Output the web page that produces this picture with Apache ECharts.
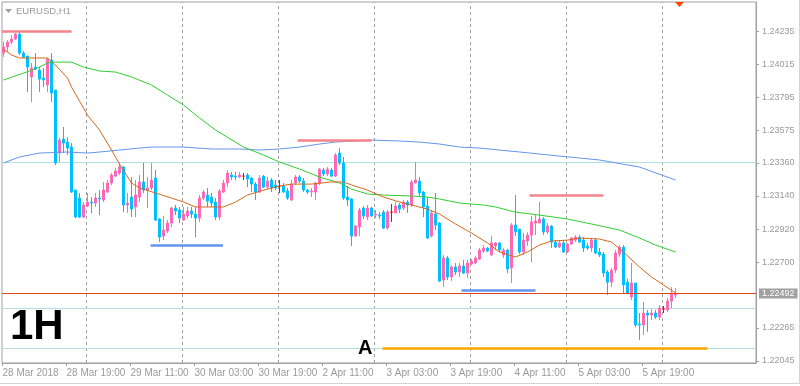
<!DOCTYPE html>
<html><head><meta charset="utf-8">
<script src="https://cdn.jsdelivr.net/npm/echarts/dist/echarts.min.js"></script>
<style>html,body{margin:0;padding:0;background:#fff;}#c{width:800px;height:386px;}</style>
</head><body><div id="c"></div>
<script>
// ---- data ----
const symbol = 'EURUSD,H1';
const periodText = '1H';
const xTickIdx = [0, 16, 32, 48, 64, 80, 96, 112, 128, 144, 160];
const xTickLabels = ['28 Mar 2018', '28 Mar 19:00', '29 Mar 11:00', '30 Mar 03:00', '30 Mar 19:00', '2 Apr 11:00', '3 Apr 03:00', '3 Apr 19:00', '4 Apr 11:00', '5 Apr 03:00', '5 Apr 19:00'];
const yTickValues = [1.24235, 1.24015, 1.23795, 1.23575, 1.23360, 1.23140, 1.22920, 1.22700, 1.22265, 1.22045];
const dayBreakIdx = [21, 45, 69, 93, 117, 141, 165];

const open = [1.24089,1.24129,1.24162,1.24182,1.24215,1.24089,1.24069,1.23930,1.23996,1.23976,
1.23923,1.23877,1.24043,1.23843,1.23425,1.23518,1.23498,1.23465,1.23179,1.23126,
1.23000,1.23073,1.23100,1.23093,1.23126,1.23113,1.23166,1.23226,1.23272,1.23292,
1.23332,1.23080,1.23133,1.23067,1.23133,1.23233,1.23179,1.23193,1.23259,1.22987,
1.22874,1.22907,1.22960,1.23060,1.23047,1.22980,1.23007,1.23040,1.23020,1.22993,
1.23126,1.23146,1.23133,1.23100,1.23000,1.23166,1.23226,1.23279,1.23272,1.23266,
1.23272,1.23279,1.23259,1.23219,1.23166,1.23272,1.23199,1.23246,1.23213,1.23206,
1.23206,1.23173,1.23113,1.23226,1.23266,1.23239,1.23179,1.23166,1.23166,1.23226,
1.23312,1.23286,1.23312,1.23272,1.23425,1.23359,1.23133,1.23120,1.22874,1.22934,
1.23060,1.23000,1.23060,1.23013,1.23013,1.23033,1.22927,1.23033,1.23027,1.23080,
1.23060,1.23100,1.23080,1.23226,1.23239,1.23166,1.23073,1.22874,1.23020,1.22960,
1.22582,1.22728,1.22602,1.22668,1.22635,1.22675,1.22628,1.22688,1.22695,1.22721,
1.22774,1.22794,1.22748,1.22808,1.22828,1.22748,1.22781,1.22662,1.22947,1.22920,
1.22768,1.22841,1.22880,1.22960,1.22960,1.22987,1.22901,1.22940,1.22834,1.22801,
1.22828,1.22768,1.22821,1.22847,1.22867,1.22847,1.22808,1.22794,1.22847,1.22768,
1.22754,1.22635,1.22568,1.22648,1.22754,1.22801,1.22568,1.22469,1.22562,1.22290,
1.22283,1.22363,1.22349,1.22363,1.22336,1.22389,1.22383,1.22442,1.22482];

const close = [1.24129,1.24162,1.24182,1.24215,1.24089,1.24062,1.23996,1.23990,1.23983,1.23916,
1.23910,1.24049,1.23823,1.23359,1.23511,1.23491,1.23458,1.23166,1.23000,1.23000,
1.23080,1.23100,1.23093,1.23126,1.23120,1.23179,1.23226,1.23279,1.23306,1.23332,
1.23080,1.23093,1.23053,1.23146,1.23233,1.23179,1.23193,1.23246,1.22980,1.22867,
1.22914,1.22960,1.23060,1.23040,1.22993,1.23020,1.23040,1.23020,1.22993,1.23126,
1.23166,1.23106,1.23093,1.23000,1.23173,1.23226,1.23292,1.23266,1.23266,1.23279,
1.23272,1.23252,1.23219,1.23166,1.23259,1.23199,1.23239,1.23193,1.23193,1.23206,
1.23166,1.23126,1.23219,1.23266,1.23239,1.23179,1.23166,1.23173,1.23226,1.23319,
1.23286,1.23319,1.23272,1.23412,1.23359,1.23126,1.23113,1.22874,1.22940,1.23047,
1.23007,1.23060,1.23007,1.23020,1.23007,1.22927,1.23033,1.23033,1.23073,1.23053,
1.23100,1.23080,1.23233,1.23246,1.23160,1.23067,1.22861,1.23027,1.22947,1.22575,
1.22728,1.22602,1.22668,1.22635,1.22675,1.22628,1.22695,1.22708,1.22728,1.22781,
1.22794,1.22774,1.22828,1.22828,1.22781,1.22781,1.22655,1.22947,1.22901,1.22768,
1.22847,1.22880,1.22967,1.22974,1.22987,1.22901,1.22940,1.22834,1.22801,1.22828,
1.22768,1.22821,1.22861,1.22867,1.22834,1.22794,1.22794,1.22847,1.22761,1.22748,
1.22628,1.22568,1.22648,1.22761,1.22801,1.22549,1.22496,1.22562,1.22283,1.22283,
1.22363,1.22349,1.22363,1.22336,1.22396,1.22389,1.22442,1.22496,1.22492];

const low = [1.24064,1.24096,1.24149,1.24175,1.24076,1.24056,1.23830,1.23764,1.23976,1.23830,
1.23863,1.23830,1.23764,1.23345,1.23365,1.23425,1.23412,1.23160,1.22993,1.22993,
1.22993,1.23067,1.23027,1.23067,1.23013,1.23100,1.23160,1.23213,1.23266,1.23279,
1.23033,1.23027,1.23000,1.23000,1.23100,1.23160,1.23060,1.23179,1.22974,1.22834,
1.22847,1.22894,1.22934,1.23013,1.22960,1.22974,1.22993,1.22993,1.22867,1.22967,
1.23113,1.23067,1.23067,1.22980,1.22980,1.23160,1.23199,1.23246,1.23246,1.23259,
1.23246,1.23199,1.23166,1.23113,1.23160,1.23193,1.23186,1.23166,1.23179,1.23160,
1.23160,1.23113,1.23106,1.23213,1.23226,1.23166,1.23153,1.23133,1.23113,1.23213,
1.23272,1.23272,1.23266,1.23266,1.23345,1.23113,1.23073,1.22807,1.22867,1.22874,
1.22987,1.22980,1.23000,1.22993,1.22987,1.22920,1.22914,1.22967,1.23027,1.23027,
1.23047,1.23027,1.23067,1.23226,1.23140,1.23000,1.22854,1.22867,1.22914,1.22568,
1.22535,1.22582,1.22575,1.22615,1.22602,1.22622,1.22595,1.22681,1.22688,1.22715,
1.22761,1.22768,1.22741,1.22781,1.22768,1.22728,1.22628,1.22562,1.22874,1.22754,
1.22748,1.22808,1.22701,1.22880,1.22960,1.22880,1.22887,1.22794,1.22794,1.22794,
1.22761,1.22761,1.22814,1.22834,1.22828,1.22768,1.22781,1.22768,1.22754,1.22735,
1.22602,1.22482,1.22535,1.22628,1.22735,1.22489,1.22489,1.22449,1.22270,1.22183,
1.22217,1.22237,1.22316,1.22323,1.22316,1.22363,1.22369,1.22396,1.22462];

const high = [1.24164,1.24175,1.24208,1.24222,1.24228,1.24102,1.24069,1.24023,1.24089,1.23996,
1.23990,1.24056,1.24089,1.23843,1.23525,1.23598,1.23531,1.23491,1.23179,1.23160,
1.23100,1.23160,1.23133,1.23160,1.23179,1.23233,1.23246,1.23292,1.23326,1.23359,
1.23339,1.23160,1.23266,1.23246,1.23279,1.23359,1.23266,1.23359,1.23312,1.22993,
1.23007,1.22980,1.23067,1.23080,1.23067,1.23067,1.23067,1.23067,1.23067,1.23146,
1.23179,1.23193,1.23160,1.23126,1.23186,1.23246,1.23312,1.23299,1.23299,1.23299,
1.23292,1.23292,1.23266,1.23233,1.23279,1.23279,1.23266,1.23259,1.23246,1.23246,
1.23226,1.23193,1.23246,1.23279,1.23279,1.23259,1.23186,1.23193,1.23233,1.23326,
1.23326,1.23332,1.23326,1.23425,1.23458,1.23399,1.23206,1.23126,1.22947,1.23060,
1.23073,1.23080,1.23067,1.23047,1.23033,1.23047,1.23047,1.23087,1.23100,1.23093,
1.23113,1.23113,1.23246,1.23365,1.23266,1.23173,1.23133,1.23047,1.23160,1.22967,
1.22748,1.22741,1.22681,1.22695,1.22695,1.22715,1.22715,1.22721,1.22741,1.22794,
1.22814,1.22801,1.22874,1.22834,1.22834,1.22794,1.22788,1.22960,1.23146,1.22920,
1.22894,1.22900,1.23007,1.23013,1.23100,1.23000,1.22960,1.22947,1.22847,1.22847,
1.22847,1.22828,1.22867,1.22880,1.22880,1.22867,1.22828,1.22861,1.22861,1.22794,
1.22768,1.22648,1.22662,1.22781,1.22814,1.22814,1.22589,1.22695,1.22562,1.22363,
1.22436,1.22383,1.22389,1.22383,1.22416,1.22409,1.22462,1.22535,1.22529];

// moving averages: [bar index, price]
const maFast = [[0,1.24116],[2,1.24076],[4,1.24056],[11,1.24056],[13,1.24009],[16,1.23923],[17,1.23863],[21,1.23677],[24,1.23578],[27,1.23445],[29,1.23352],[32,1.23226],[34,1.23193],[38,1.23160],[42,1.23126],[45,1.23100],[48,1.23067],[55,1.23067],[58,1.23100],[61,1.23146],[65,1.23179],[69,1.23206],[72,1.23219],[77,1.23219],[82,1.23233],[85,1.23233],[87,1.23213],[91,1.23179],[95,1.23133],[99,1.23100],[103,1.23073],[106,1.23053],[109,1.23020],[113,1.22954],[117,1.22894],[121,1.22828],[124,1.22768],[128,1.22735],[131,1.22768],[134,1.22814],[137,1.22841],[141,1.22847],[144,1.22861],[149,1.22854],[152,1.22834],[155,1.22768],[159,1.22668],[162,1.22602],[165,1.22549],[168,1.22496]];
const maMid = [[0,1.23910],[5,1.23956],[8,1.23983],[11,1.24023],[13,1.24029],[17,1.24029],[20,1.23996],[24,1.23970],[28,1.23963],[32,1.23930],[37,1.23877],[41,1.23810],[45,1.23744],[49,1.23658],[53,1.23578],[60,1.23465],[65,1.23412],[69,1.23365],[74,1.23319],[79,1.23266],[84,1.23226],[87,1.23186],[91,1.23153],[95,1.23146],[102,1.23140],[106,1.23133],[109,1.23120],[114,1.23093],[120,1.23080],[123,1.23067],[128,1.23033],[134,1.23013],[141,1.22987],[147,1.22954],[154,1.22914],[159,1.22861],[163,1.22814],[168,1.22768]];
const maSlow = [[0,1.23359],[4,1.23399],[9,1.23425],[16,1.23432],[21,1.23425],[24,1.23432],[29,1.23445],[34,1.23458],[37,1.23465],[45,1.23465],[52,1.23452],[59,1.23452],[64,1.23445],[69,1.23452],[74,1.23465],[79,1.23485],[83,1.23498],[92,1.23511],[99,1.23505],[104,1.23498],[109,1.23485],[114,1.23465],[119,1.23458],[129,1.23432],[139,1.23405],[149,1.23379],[159,1.23332],[168,1.23246]];

// horizontal levels
const cyanLevels = [1.23363, 1.22394, 1.22128];
const bidPrice = 1.22492;
// drawn segments: from bar, to bar, price, kind
const segFrom  = [-0.375, 36.75, 73.5, 131.5, 114.5, 94.75];
const segTo    = [17, 54.9, 92, 150, 133, 176];
const segPrice = [1.24235, 1.22811, 1.23508, 1.23143, 1.22512, 1.22130];
const segKind  = ['res', 'sup', 'res', 'res', 'sup', 'mark'];
const segText  = ['', '', '', '', '', 'A'];

// ---- styles / layout ----
const UP = '#ff69b4', DOWN = '#00bfff', DOJI = '#ff0000';
const GREY = '#a0a0a0', TXT = '#9a9a9a';
const FONT = '"Liberation Sans", Arial, sans-serif';
const segStyle = { res: {color: '#f4838c', width: 2.5}, sup: {color: '#6495ed', width: 2.5}, mark: {color: '#ffa500', width: 2.5} };
const xMin = -0.375, xMax = 188.125, yMin = 1.22031, yMax = 1.24428;

const candleData = open.map((o, i) => {
  const it = { value: [i, o, close[i], low[i], high[i]] };
  if (o === close[i]) it.itemStyle = { color: DOJI, color0: DOJI, borderColor: DOJI, borderColor0: DOJI, borderColorDoji: DOJI };
  return it;
});

const xTickPos = xTickIdx.map(k => k - 0.25);

const bgLines = [];
dayBreakIdx.forEach(k => bgLines.push([{ coord: [k - 0.25, yMin] }, { coord: [k - 0.25, yMax], lineStyle: { color: GREY, type: [3, 3], width: 1 } }]));
cyanLevels.forEach(p => bgLines.push([{ coord: [xMin, p] }, { coord: [xMax, p], lineStyle: { color: '#b0e0e6', type: 'solid', width: 1 } }]));

const fgLines = [];
segPrice.forEach((p, i) => {
  const st = segStyle[segKind[i]];
  const to = { coord: [segTo[i], p], lineStyle: { color: st.color, width: st.width, type: 'solid' } };
  if (segText[i]) to.label = { show: true, position: 'start', formatter: segText[i], color: '#000', fontSize: 20, fontWeight: 'bold', fontFamily: FONT, distance: 10 };
  fgLines.push([{ coord: [segFrom[i], p] }, to]);
});
fgLines.push([{ coord: [xMin, bidPrice] }, { coord: [xMax, bidPrice], lineStyle: { color: '#e0481c', width: 1, type: 'solid' },
  label: { show: true, position: 'end', formatter: bidPrice.toFixed(5), color: '#fff', backgroundColor: '#a0a0a0', padding: [1, 3, 0, 3], fontSize: 9, fontFamily: FONT, distance: 3 } }]);

const chart = echarts.init(document.getElementById('c'), null, { renderer: 'canvas' });
chart.setOption({
  animation: false,
  backgroundColor: '#fff',
  grid: { left: 2, top: 2, right: 44, bottom: 23, show: true, borderColor: GREY, borderWidth: 1, containLabel: false, outerBoundsMode: 'none' },
  xAxis: {
    type: 'value', min: xMin, max: xMax,
    splitLine: { show: false },
    axisLine: { show: true, onZero: false, lineStyle: { color: GREY } },
    axisTick: { show: true, length: 3, lineStyle: { color: GREY }, customValues: xTickPos },
    axisLabel: { customValues: xTickPos, align: 'left', margin: 5, color: TXT, fontSize: 10, fontFamily: FONT,
      formatter: v => { const i = xTickPos.indexOf(v); return i >= 0 ? xTickLabels[i] : ''; } }
  },
  yAxis: {
    type: 'value', position: 'right', min: yMin, max: yMax, scale: true,
    splitLine: { show: false },
    axisLine: { show: true, onZero: false, lineStyle: { color: GREY } },
    axisTick: { show: true, length: 3, lineStyle: { color: GREY }, customValues: yTickValues },
    axisLabel: { customValues: yTickValues, margin: 6, color: TXT, fontSize: 9, fontFamily: FONT, formatter: v => v.toFixed(5) }
  },
  series: [
    { type: 'candlestick', barWidth: 2, z: 3, data: candleData, encode: { x: 0, y: [1, 2, 3, 4] },
      itemStyle: { color: UP, color0: DOWN, borderColor: UP, borderColor0: DOWN, borderColorDoji: DOJI, borderWidth: 1 },
      markLine: { silent: true, symbol: ['none', 'none'], z: 1, label: { show: false }, data: bgLines } },
    { type: 'line', data: maSlow, z: 4, symbol: 'none', lineStyle: { color: '#6495ed', width: 1 } },
    { type: 'line', data: maMid, z: 4, symbol: 'none', lineStyle: { color: '#32cd32', width: 1 } },
    { type: 'line', data: maFast, z: 4, symbol: 'none', lineStyle: { color: '#d2691e', width: 1 },
      markLine: { silent: true, symbol: ['none', 'none'], z: 6, label: { show: false }, data: fgLines } }
  ],
  graphic: [
    { type: 'polyline', silent: true, shape: { points: [[799.5, 0], [799.5, 383.5], [0, 383.5]] }, style: { stroke: '#d4d4d4', fill: null, lineWidth: 1 } },
    { type: 'polygon', silent: true, shape: { points: [[5, 9], [12, 9], [8.5, 13]] }, style: { fill: GREY } },
    { type: 'text', silent: true, x: 16, y: 11, style: { text: symbol, fill: TXT, font: '9.5px ' + FONT, verticalAlign: 'middle' } },
    { type: 'text', silent: true, x: 10, y: 327, style: { text: periodText, fill: '#000', font: 'bold 42px ' + FONT, verticalAlign: 'middle' } },
    { type: 'polygon', silent: true, shape: { points: [[675, 2], [684, 2], [679.5, 7]] }, style: { fill: '#ff4500' } }
  ]
});
</script>
</body></html>
